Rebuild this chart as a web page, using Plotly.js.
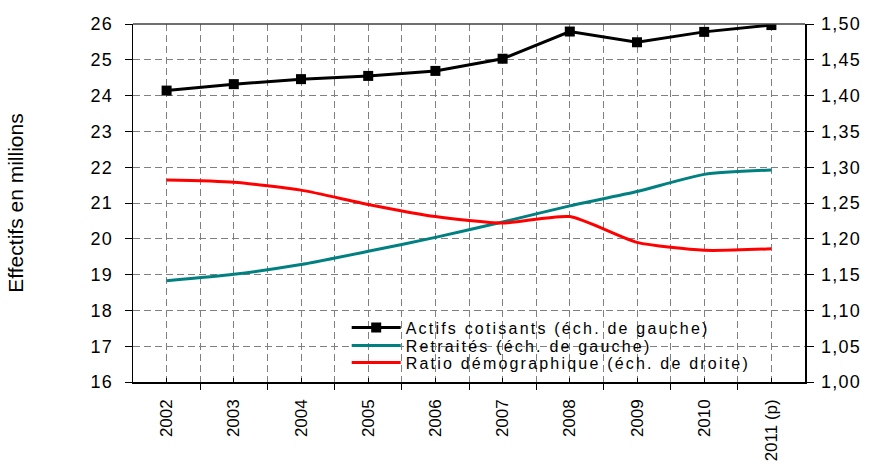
<!DOCTYPE html>
<html>
<head>
<meta charset="utf-8">
<script src="https://cdn.plot.ly/plotly-3.0.1.min.js"></script>
<style>
html,body{margin:0;padding:0;background:#fff;}
#chart{width:869px;height:470px;}
.ytick text, .y2tick text{letter-spacing:1.2px;}
text.legendtext, text.legend2text, text.legend3text{letter-spacing:2.2px;}
</style>
</head>
<body>
<div id="chart"></div>
<script>
const years = ["2002","2003","2004","2005","2006","2007","2008","2009","2010","2011 (p)"];
const actifs = [24.14, 24.32, 24.46, 24.55, 24.69, 25.03, 25.79, 25.49, 25.78, 25.97];
const retraites = [18.83, 19.01, 19.28, 19.65, 20.04, 20.47, 20.92, 21.32, 21.80, 21.92];
const ratio = [1.282, 1.279, 1.268, 1.248, 1.231, 1.222, 1.231, 1.195, 1.184, 1.186];
const seriesNames = ["Actifs cotisants (éch. de gauche)", "Retraités (éch. de gauche)", "Ratio démographique (éch. de droite)"];
const yLeftTitle = "Effectifs en millions";

const xi = years.map((_, i) => i);
const font = "Liberation Sans, Arial, sans-serif";
const gridDash = "7px,4px";

const traces = [
  {x: xi, y: actifs, name: seriesNames[0], type: "scatter", mode: "lines+markers", legend: "legend",
   line: {color: "#000000", width: 3}, marker: {symbol: "square", size: 10, color: "#000000"}},
  {x: xi, y: retraites, name: seriesNames[1], type: "scatter", mode: "lines", legend: "legend2",
   line: {color: "#008080", width: 3, shape: "spline", smoothing: 0.6}},
  {x: xi, y: ratio, name: seriesNames[2], type: "scatter", mode: "lines", yaxis: "y2", legend: "legend3",
   line: {color: "#ff0000", width: 3, shape: "spline", smoothing: 0.6}}
];

function leg(y) {
  return {x: 0.318, xanchor: "left", y: y, yanchor: "middle", bgcolor: "rgba(0,0,0,0)",
          borderwidth: 0, font: {family: font, size: 16, color: "#000000"}, itemwidth: 49};
}

const layout = {
  width: 869, height: 470,
  margin: {l: 133, r: 64, t: 24, b: 88},
  paper_bgcolor: "#ffffff", plot_bgcolor: "#ffffff",
  separators: ",.",
  font: {family: font, size: 16, color: "#000000"},
  showlegend: true,
  legend: leg(0.1517),
  legend2: leg(0.1014),
  legend3: leg(0.0539),
  xaxis: {
    range: [-0.5, 9.5], tickmode: "array", tickvals: xi, ticktext: years, tickangle: -90,
    ticks: "inside", ticklen: 4, tickcolor: "#000000",
    showgrid: true, gridcolor: "#808080", griddash: gridDash, gridwidth: 1,
    showline: true, linecolor: "#000000", linewidth: 1.5, mirror: false,
    zeroline: false, ticklabelstandoff: 9,
    tickfont: {family: font, size: 17, color: "#000000"},
    minor: {tick0: -0.5, dtick: 1, ticks: "outside", ticklen: 6, tickcolor: "#000000",
            showgrid: true, gridcolor: "#808080", griddash: gridDash, gridwidth: 1}
  },
  yaxis: {
    range: [16, 26], dtick: 1, tick0: 16,
    ticks: "outside", ticklen: 7, tickcolor: "#000000",
    showgrid: true, gridcolor: "#808080", griddash: gridDash, gridwidth: 1,
    showline: true, linecolor: "#000000", linewidth: 1.5, zeroline: false,
    ticklabelstandoff: 8,
    tickfont: {family: font, size: 18, color: "#000000"},
    title: {text: yLeftTitle, font: {family: font, size: 21, color: "#000000"}, standoff: 61}
  },
  yaxis2: {
    range: [1.0, 1.5], dtick: 0.05, tick0: 1.0, tickformat: ".2f",
    overlaying: "y", side: "right",
    ticks: "outside", ticklen: 7, tickcolor: "#000000",
    showgrid: false, showline: true, linecolor: "#000000", linewidth: 1.5, zeroline: false,
    ticklabelstandoff: 4,
    tickfont: {family: font, size: 18, color: "#000000"}
  },
  shapes: [
    {type: "line", xref: "paper", yref: "paper", x0: 0, x1: 1, y0: 1, y1: 1,
     line: {color: "#404040", width: 1.5}, layer: "above"},
    {type: "rect", xref: "paper", yref: "paper", x0: 0.262, x1: 0.998, y0: 0.003, y1: 0.197,
     fillcolor: "#ffffff", line: {width: 0}, layer: "between"}
  ]
};

Plotly.newPlot("chart", traces, layout, {displayModeBar: false, staticPlot: true});
</script>
</body>
</html>
